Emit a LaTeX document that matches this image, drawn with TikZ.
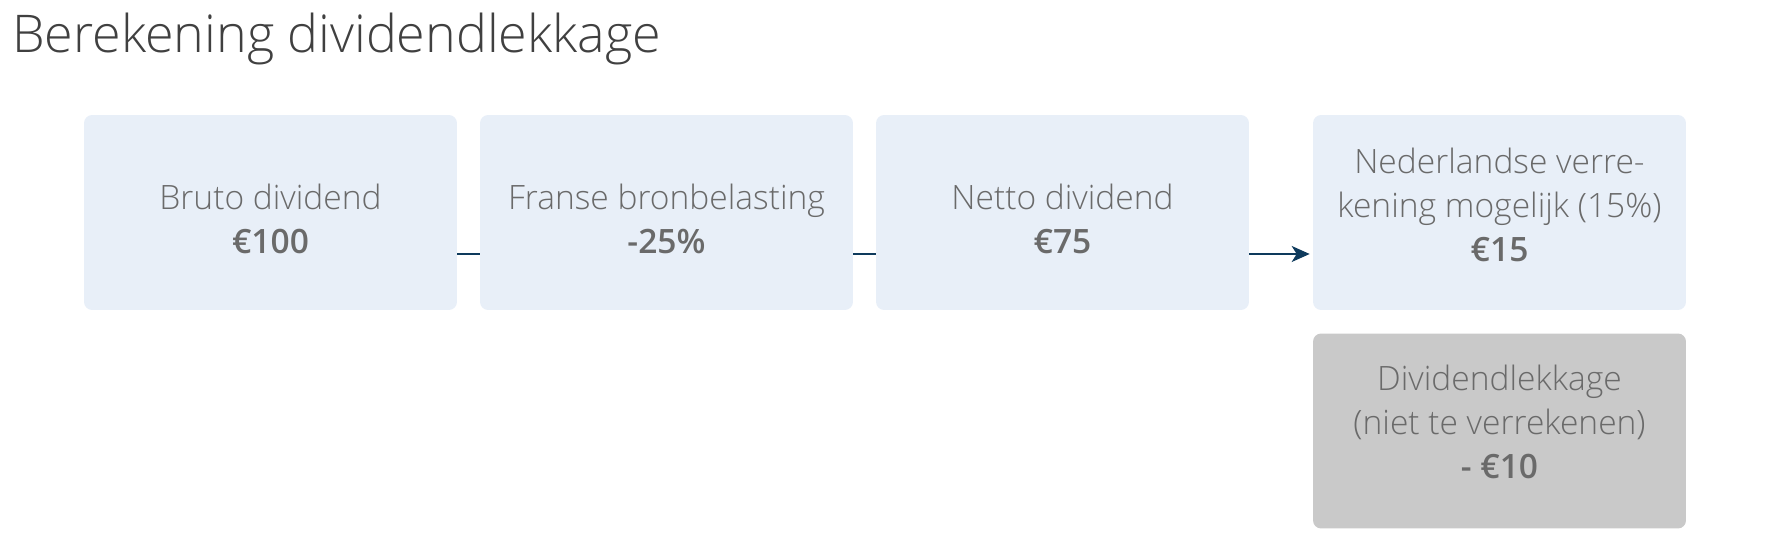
\documentclass[tikz,border=0pt]{standalone}
\usepackage{fontspec}
\setmainfont{Open Sans Light}[BoldFont={Open Sans Semibold}]
\usepackage{tikz}
\usetikzlibrary{arrows.meta}

\definecolor{boxblue}{HTML}{E8EFF8}
\definecolor{boxgray}{HTML}{C9C9C9}
\definecolor{txtgray}{HTML}{6A6A6A}
\definecolor{titlegray}{HTML}{404040}
\definecolor{linknavy}{HTML}{0E3A5C}

\begin{document}
\begin{tikzpicture}[x=0.02cm, y=-0.02cm,
        stepbox/.style={rectangle, rounded corners=0.16cm, minimum width=7.46cm, minimum height=3.9cm, inner sep=0pt},
        steptext/.style={align=center, text=txtgray, inner sep=0pt, font=\fontsize{19.1pt}{25pt}\selectfont},
        link/.style={draw=linknavy, line width=1.15pt}]
        \useasboundingbox (0,0) rectangle (1771,547);
        
        % Title
        \node[anchor=base west, inner sep=0pt, text=titlegray, font=\fontsize{29.6pt}{36pt}\selectfont] (title) at (12,53) {Berekening dividendlekkage};
        
        % Boxes
        \node[stepbox, fill=boxblue] (bruto) at (270.5,212.5) {};
        \node[stepbox, fill=boxblue] (bron) at (666.5,212.5) {};
        \node[stepbox, fill=boxblue] (netto) at (1062.5,212.5) {};
        \node[stepbox, fill=boxblue] (verrekening) at (1499.5,212.5) {};
        \node[stepbox, fill=boxgray] (lekkage) at (1499.5,431) {};
        
        % Texts
        \node[steptext] (brutotext) at (270.5,219.3) {Bruto dividend\\\textbf{€100}};
        \node[steptext] (brontext) at (666.5,219.3) {Franse bronbelasting\\\textbf{-25\%}};
        \node[steptext] (nettotext) at (1062.5,219.3) {Netto dividend\\\textbf{€75}};
        \node[steptext] (verrekeningtext) at (1499.5,205.3) {Nederlandse verre-\\kening mogelijk (15\%)\\\textbf{€15}};
        \node[steptext] (lekkagetext) at (1499.5,421.8) {Dividendlekkage\\(niet te verrekenen)\\\textbf{- €10}};
        
        % Links
        \draw[link] ([yshift=-0.83cm]bruto.east) -- ([yshift=-0.83cm]bron.west);
        \draw[link] ([yshift=-0.83cm]bron.east) -- ([yshift=-0.83cm]netto.west);
        \draw[link, -{Stealth[length=0.36cm, width=0.32cm, inset=0.1cm]}, shorten >=0.06cm] ([yshift=-0.83cm]netto.east) -- ([yshift=-0.83cm]verrekening.west);
        
    \end{tikzpicture}
\end{document}
